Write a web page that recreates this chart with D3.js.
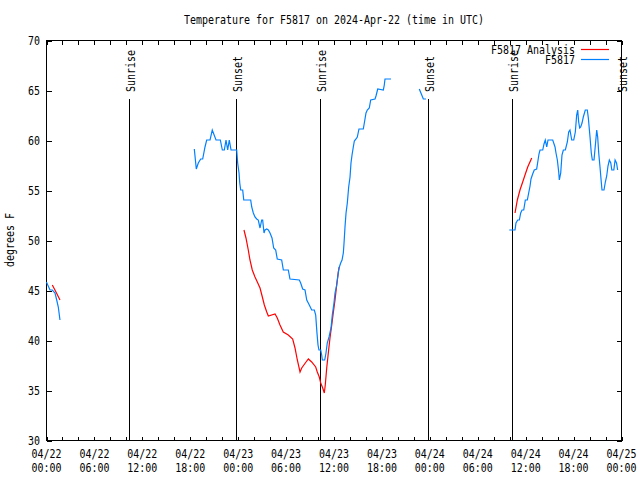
<!DOCTYPE html>
<html>
<head>
<meta charset="utf-8">
<script src="https://cdn.jsdelivr.net/npm/d3@7"></script>
<style>
  html, body { margin: 0; padding: 0; background: #fff; }
  svg { display: block; }
  text { font-family: "DejaVu Sans Mono", "Liberation Mono", monospace; font-size: 12px; fill: #000; }
</style>
</head>
<body>
<svg id="chart" width="640" height="480"></svg>
<script>
// ---------------- DATA ----------------
const titleText = "Temperature for F5817 on 2024-Apr-22 (time in UTC)";
const yLabelText = "degrees F";
const startDate = "2024-04-22T00:00:00Z";
const endDate = "2024-04-25T00:00:00Z";
const yTickValues = [30, 35, 40, 45, 50, 55, 60, 65, 70];

// Observations (F5817): hours since 2024-04-22 00:00 UTC; null marks a gap
const obsHours = [
  0.05, 0.5, 0.79, 1.13, 1.34, 1.54, 1.75,
  null,
  18.57, 18.82, 19.07, 19.37, 19.62, 19.91, 20.12, 20.54, 20.82, 21.29, 21.83, 22.08, 22.33, 22.54, 22.75, 22.95, 23.17, 23.88,
  24.0, 24.17, 24.26, 24.38, 24.63, 24.76, 25.63, 25.76, 25.96, 26.17, 26.38, 26.58, 26.80, 27.01, 27.13, 27.30, 27.42, 27.64,
  27.84, 28.05, 28.30, 28.51, 28.76, 28.96, 29.51, 29.72, 30.34, 30.55, 31.72, 31.89, 32.14, 32.43, 32.65, 32.97, 33.27, 33.60,
  33.77, 33.93, 34.06, 34.18, 34.40, 34.52, 34.60, 34.90, 35.06, 35.22, 35.44, 35.69, 35.85, 36.06, 36.19, 36.40, 36.53, 36.69,
  36.90, 37.07, 37.23, 37.32, 37.44, 37.57, 37.73, 37.90, 38.07, 38.19, 38.32, 38.48, 38.61, 38.82, 38.98, 39.19, 39.73, 39.86,
  40.07, 40.23, 40.48, 40.66, 41.20, 41.32, 41.54, 42.24, 42.36, 42.45, 43.20,
  null,
  46.74, 47.05, 47.25, 47.58,
  null,
  58.01, 58.73, 58.85, 59.07, 59.27, 59.44, 59.61, 59.82, 60.02, 60.27, 60.44, 60.61, 60.73, 60.94, 61.14, 61.44, 61.73, 61.86,
  62.20, 62.36, 62.52, 62.70, 62.86, 63.45, 63.74, 63.86, 64.03, 64.20, 64.28, 64.45, 64.61, 64.78, 65.03, 65.28, 65.45, 65.61,
  65.83, 66.08, 66.28, 66.45, 66.58, 66.70, 66.83, 66.95, 67.12, 67.28, 67.53, 67.78, 67.91, 68.12, 68.28, 68.41, 68.62, 68.78,
  68.96, 69.08, 69.21, 69.37, 69.53, 69.62, 69.87, 70.04, 70.21, 70.37, 70.54, 70.72, 70.85, 71.10, 71.26, 71.44, 71.58
];
const obsTemp = [
  45.8, 45.0, 45.0, 44.7, 44.0, 43.3, 42.0,
  null,
  59.1, 57.1, 57.7, 58.1, 58.1, 59.3, 60.0, 60.0, 61.0, 60.0, 60.0, 59.0, 59.0, 60.0, 59.0, 60.0, 59.0, 59.0,
  57.7, 56.7, 55.7, 55.0, 55.0, 54.0, 54.0, 53.3, 52.7, 52.3, 52.1, 52.0, 51.2, 52.0, 52.0, 50.7, 51.0, 51.1,
  51.0, 50.7, 50.2, 49.2, 49.0, 48.1, 48.0, 47.0, 47.0, 46.1, 46.0, 45.7, 45.1, 45.0, 44.0, 43.5, 43.0, 43.0,
  42.5, 40.7, 39.5, 39.0, 39.0, 38.5, 38.0, 38.0, 38.7, 39.7, 40.3, 41.2, 42.5, 43.7, 44.7, 45.5, 46.3, 47.2,
  47.7, 48.0, 48.7, 49.7, 51.3, 52.7, 53.7, 55.3, 56.3, 57.7, 58.5, 59.3, 59.9, 60.1, 60.3, 61.1, 61.1, 61.7,
  62.7, 63.0, 63.2, 64.0, 64.1, 64.4, 65.1, 65.0, 65.5, 66.1, 66.1,
  null,
  65.1, 64.5, 64.1, 64.1,
  null,
  51.0, 51.0, 51.7, 52.0, 52.0, 52.7, 53.0, 53.0, 54.0, 54.0, 54.7, 55.4, 56.1, 56.6, 57.0, 57.1, 58.6, 59.0,
  59.0, 59.6, 60.0, 59.3, 60.0, 60.0, 59.3, 58.7, 58.0, 56.8, 56.0, 56.7, 58.5, 59.0, 59.0, 59.8, 60.8, 61.0,
  60.0, 60.0, 60.8, 62.5, 63.0, 61.8, 61.2, 61.3, 61.7, 62.3, 63.0, 63.0, 62.2, 60.3, 58.7, 58.0, 58.0, 59.4,
  61.0, 60.3, 58.7, 57.3, 55.8, 55.0, 55.0, 55.8, 56.4, 57.4, 58.0, 57.7, 57.0, 57.0, 58.0, 57.7, 57.0
];

// Analysis (F5817 Analysis): hours since 2024-04-22 00:00 UTC; null marks a gap
const anaHours = [
  0.79, 1.25, 1.75,
  null,
  24.79, 25.04, 25.33, 25.54, 25.83, 26.17, 26.46, 26.80, 27.09, 27.34, 27.64, 27.84, 28.68, 28.96, 29.30, 29.71,
  30.34, 30.89, 31.18, 31.47, 31.81, 32.02, 32.56, 32.85, 33.27, 33.77, 33.97, 34.22, 34.40, 34.65, 34.85, 34.97,
  35.15, 35.35, 35.56, 35.78, 35.97, 36.19, 36.40, 36.60, 36.72,
  null,
  58.73, 59.02, 59.35, 59.69, 59.98, 60.32, 60.82
];
const anaTemp = [
  45.5, 44.8, 44.0,
  null,
  51.0, 50.2, 49.0, 48.0, 47.0, 46.3, 45.8, 45.2, 44.3, 43.5, 42.8, 42.4, 42.6, 42.2, 41.5, 40.8,
  40.5, 40.1, 39.2, 38.0, 36.8, 37.2, 37.8, 38.1, 37.8, 37.3, 36.8, 36.3, 35.7, 35.2, 34.7, 35.5,
  37.2, 38.7, 40.2, 41.5, 42.7, 44.0, 45.5, 46.8, 47.3,
  null,
  52.7, 54.0, 55.0, 55.8, 56.5, 57.3, 58.2
];

// Sun events: hours since 2024-04-22 00:00 UTC
const eventNames = ["Sunrise", "Sunset", "Sunrise", "Sunset", "Sunrise", "Sunset"];
const eventHours = [10.42, 23.83, 34.37, 47.85, 58.38, 71.95];

const seriesNames = ["F5817 Analysis", "F5817"];
const seriesColors = ["#ff0000", "#0080ff"];

// ---------------- CHART ----------------
const svg = d3.select("#chart");
const plot = { left: 46, right: 621, top: 40, bottom: 440 };
const t0 = new Date(startDate);
const toDate = h => new Date(t0.getTime() + h * 3600e3);

const x = d3.scaleUtc().domain([new Date(startDate), new Date(endDate)]).range([plot.left, plot.right]);
const y = d3.scaleLinear().domain([30, 70]).range([plot.bottom, plot.top]);

function fitText(sel, s) {
  sel.text(s).attr("textLength", s.length * 6).attr("lengthAdjust", "spacingAndGlyphs");
  return sel;
}

// Title
fitText(svg.append("text").attr("x", 334).attr("y", 24).attr("text-anchor", "middle"), titleText);

// Frame
svg.append("rect")
  .attr("x", plot.left + 0.5).attr("y", plot.top + 0.5)
  .attr("width", plot.right - plot.left).attr("height", plot.bottom - plot.top)
  .attr("fill", "none").attr("stroke", "#000").attr("stroke-width", 1)
  .attr("shape-rendering", "crispEdges");

// Tick marks (inward) via D3 axes
const minorTicks = x.ticks(d3.utcHour.every(2));
const gB = svg.append("g").attr("transform", `translate(0.5,${plot.bottom + 0.5})`)
  .call(d3.axisBottom(x).tickValues(minorTicks).tickSizeInner(-4).tickSizeOuter(0).tickFormat(""));
const gT = svg.append("g").attr("transform", `translate(0.5,${plot.top + 0.5})`)
  .call(d3.axisTop(x).tickValues(minorTicks).tickSizeInner(-4).tickSizeOuter(0).tickFormat(""));
const gL = svg.append("g").attr("transform", `translate(${plot.left + 0.5},0.5)`)
  .call(d3.axisLeft(y).tickValues(yTickValues).tickSizeInner(-5).tickSizeOuter(0).tickFormat(""));
const gR = svg.append("g").attr("transform", `translate(${plot.right + 0.5},0.5)`)
  .call(d3.axisRight(y).tickValues(yTickValues).tickSizeInner(-5).tickSizeOuter(0).tickFormat(""));
[gB, gT, gL, gR].forEach(g => {
  g.select(".domain").remove();
  g.selectAll("line").attr("stroke", "#000").attr("shape-rendering", "crispEdges");
});

// X tick labels (two lines)
const fmtDay = d3.utcFormat("%m/%d"), fmtHour = d3.utcFormat("%H:%M");
x.ticks(d3.utcHour.every(6)).forEach(d => {
  fitText(svg.append("text").attr("x", x(d) + 0.5).attr("y", 458).attr("text-anchor", "middle"), fmtDay(d));
  fitText(svg.append("text").attr("x", x(d) + 0.5).attr("y", 472).attr("text-anchor", "middle"), fmtHour(d));
});

// Y tick labels
yTickValues.forEach(v => {
  fitText(svg.append("text").attr("x", 40).attr("y", y(v) + 4.5).attr("text-anchor", "end"), String(v));
});

// Y axis title
fitText(svg.append("text")
  .attr("transform", "translate(14,240) rotate(-90)")
  .attr("text-anchor", "middle"), yLabelText);

// Sun event lines and labels
eventHours.forEach((h, i) => {
  const xe = Math.round(x(toDate(h))) + 0.5;
  svg.append("line").attr("x1", xe).attr("x2", xe).attr("y1", 99).attr("y2", plot.bottom)
    .attr("stroke", "#000").attr("stroke-width", 1).attr("shape-rendering", "crispEdges");
  fitText(svg.append("text")
    .attr("transform", `translate(${xe + 5},92) rotate(-90)`)
    .attr("text-anchor", "start"), eventNames[i]);
});

// Series
function toPoints(hours, temps) {
  return hours.map((h, i) => ({ h: h, t: temps[i] }));
}
const line = d3.line()
  .defined(d => d.h !== null && d.t !== null)
  .x(d => x(toDate(d.h)))
  .y(d => y(d.t));

svg.append("path").datum(toPoints(anaHours, anaTemp))
  .attr("d", line).attr("fill", "none").attr("stroke", seriesColors[0]).attr("stroke-width", 1.2);
svg.append("path").datum(toPoints(obsHours, obsTemp))
  .attr("d", line).attr("fill", "none").attr("stroke", seriesColors[1]).attr("stroke-width", 1.2);

// Legend
seriesNames.forEach((name, i) => {
  const ly = 49.5 + i * 10;
  fitText(svg.append("text").attr("x", 575).attr("y", ly + 4.5).attr("text-anchor", "end"), name);
  svg.append("line").attr("x1", 581).attr("x2", 609).attr("y1", ly).attr("y2", ly)
    .attr("stroke", seriesColors[i]).attr("stroke-width", 1.2);
});
</script>
</body>
</html>
